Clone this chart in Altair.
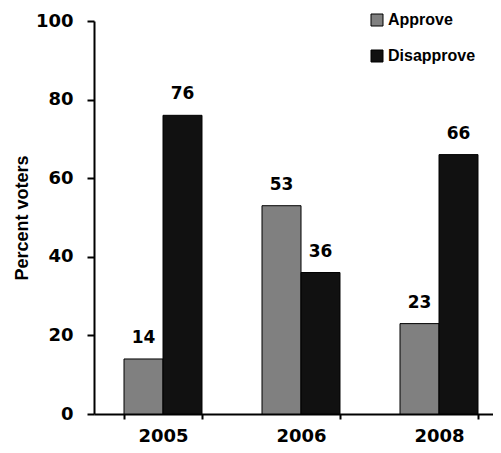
import altair as alt
import pandas as pd

years = ["2005", "2006", "2008"]
series = ["Approve", "Disapprove"]
approve = [14, 53, 23]
disapprove = [76, 36, 66]
y_ticks = [0, 20, 40, 60, 80, 100]
colors = ["#808080", "#111111"]

rows = []
for i, yr in enumerate(years):
    rows.append({"year": yr, "series": "Approve", "value": approve[i]})
    rows.append({"year": yr, "series": "Disapprove", "value": disapprove[i]})
df = pd.DataFrame(rows)

num_font = "DejaVu Sans"
txt_font = "Liberation Sans"

x_enc = alt.X(
    "year:N",
    sort=years,
    title=None,
    scale=alt.Scale(range=[0, 414], paddingInner=0.435, paddingOuter=0.2175),
    axis=alt.Axis(
        labelAngle=0,
        tickBand="extent",
        domainWidth=2,
        domainColor="black",
        tickColor="black",
        tickWidth=2,
        tickSize=5,
        labelFont=num_font,
        labelFontWeight="bold",
        labelFontSize=18,
        labelColor="black",
        labelPadding=8,
    ),
)
xoff = alt.XOffset("series:N", sort=series, scale=alt.Scale(paddingInner=0, paddingOuter=0))
y_enc = alt.Y(
    "value:Q",
    scale=alt.Scale(domain=[0, 100], nice=False),
    axis=alt.Axis(
        values=y_ticks,
        title="Percent voters",
        titleFont=txt_font,
        titleFontSize=18,
        titleFontWeight="bold",
        titleColor="black",
        titlePadding=4,
        grid=False,
        domainWidth=2,
        domainColor="black",
        tickColor="black",
        tickWidth=2,
        tickSize=7,
        labelFont=num_font,
        labelFontWeight="bold",
        labelFontSize=18,
        labelColor="black",
        labelPadding=14,
    ),
)

bars = alt.Chart(df).mark_bar(stroke="black", strokeWidth=1).encode(
    x=x_enc,
    xOffset=xoff,
    y=y_enc,
    color=alt.Color(
        "series:N",
        sort=series,
        scale=alt.Scale(domain=series, range=colors),
        legend=alt.Legend(
            orient="none",
            legendX=275,
            legendY=-9,
            title=None,
            symbolType="square",
            symbolSize=144,
            symbolStrokeColor="black",
            symbolStrokeWidth=1,
            symbolOpacity=1,
            labelFont=txt_font,
            labelFontWeight="bold",
            labelFontSize=16,
            labelColor="black",
            rowPadding=20,
            labelOffset=3,
        ),
    ),
)

labels = alt.Chart(df).mark_text(
    dy=-16, baseline="alphabetic", font=num_font, fontWeight="bold", fontSize=17, color="black"
).encode(
    x=x_enc,
    xOffset=xoff,
    y=y_enc,
    text="value:Q",
)

chart = alt.layer(bars, labels).properties(
    width=399,
    height=393,
    autosize="none",
    padding={"left": 86, "top": 13, "right": 0, "bottom": 31},
).configure_view(stroke=None)

chart.save("out.html", embed_options={"renderer": "svg", "actions": False})
